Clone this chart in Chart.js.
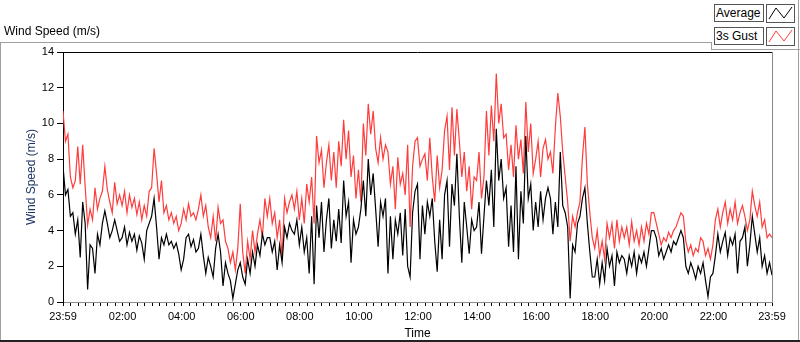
<!DOCTYPE html>
<html>
<head>
<meta charset="utf-8">
<script src="https://cdn.jsdelivr.net/npm/chart.js@4.4.0/dist/chart.umd.min.js"></script>
<style>
  body { margin: 0; background: #fff; font-family: "Liberation Sans", Arial, sans-serif; }
  #wrap { position: relative; width: 800px; height: 342px; overflow: hidden; }
  #c { position: absolute; left: 0; top: 0; }
  .ln { position: absolute; background: #a0a0a0; }
  .title { position: absolute; left: 4px; top: 24px; font-size: 12px; color: #000; }
  .lgtxt { position: absolute; left: 714px; width: 47px; height: 16px; border: 1px solid #555;
           background: #fff; font-size: 12px; line-height: 16px; padding-left: 1px; color: #000; }
  .lgicon { position: absolute; left: 766px; width: 27px; height: 17px; border: 1px solid #555; background: #fff; }
  .lgicon svg { display: block; }
</style>
</head>
<body>
<div id="wrap">
  <canvas id="c" width="800" height="342"></canvas>

  <!-- outer frame -->
  <div class="ln" style="left:0;top:42px;width:712px;height:1px"></div>
  <div class="ln" style="left:0;top:42px;width:1px;height:300px"></div>
  <div class="ln" style="left:711px;top:42px;width:1px;height:8px"></div>
  <div class="ln" style="left:711px;top:49px;width:89px;height:1px"></div>
  <div class="ln" style="left:798px;top:0;width:1px;height:342px"></div>
  <div class="ln" style="left:0;top:340px;width:800px;height:2px;background:#222"></div>

  <div class="title">Wind Speed (m/s)</div>

  <!-- legend -->
  <div class="lgtxt" style="top:4px">Average</div>
  <div class="lgicon" style="top:4px">
    <svg width="27" height="17"><polyline points="2,14 9,3 17,13 25,2" stroke="#000" stroke-width="1" fill="none"/></svg>
  </div>
  <div class="lgtxt" style="top:27px">3s Gust</div>
  <div class="lgicon" style="top:27px">
    <svg width="27" height="17"><polyline points="2,14 9,3 17,13 25,2" stroke="#ff3c3c" stroke-width="1" fill="none"/></svg>
  </div>
</div>

<script>
// sample times, minutes after 23:59 (5 minute steps)
const minutes = [];
for (let m = 0; m <= 1440; m += 5) minutes.push(m);

// Average wind speed (m/s), one row per hour
const avgSpeed = [
  7.6, 6.0, 6.3, 4.8, 5.0, 3.8, 4.6, 2.5, 5.6, 4.4, 0.7, 3.2,
  3.0, 1.6, 3.8, 3.2, 4.4, 5.1, 4.4, 3.6, 4.0, 4.6, 4.0, 3.4,
  3.6, 4.2, 3.2, 3.9, 3.4, 3.8, 2.9, 3.7, 3.3, 2.4, 4.0, 4.4,
  4.8, 5.8, 4.2, 2.4, 3.6, 3.2, 3.8, 3.2, 3.4, 3.0, 3.3, 2.7,
  1.8, 2.4, 3.6, 3.8, 3.1, 3.5, 2.8, 3.0, 3.8, 2.6, 1.6, 2.5,
  2.0, 1.4, 3.0, 3.8, 2.8, 0.9, 2.2, 1.6, 1.2, 0.2, 1.0, 1.8,
  2.2, 1.4, 1.0, 2.4, 1.6, 2.8, 2.0, 3.2, 2.6, 3.8, 3.2, 3.6,
  3.6, 2.8, 3.4, 1.8, 3.2, 2.2, 4.2, 3.6, 4.4, 4.0, 3.8, 4.6,
  3.2, 4.2, 2.8, 3.6, 1.6, 4.8, 1.0, 5.4, 3.6, 5.6, 2.8, 4.6,
  5.8, 3.0, 4.6, 3.4, 5.2, 3.3, 6.8, 4.8, 5.6, 2.2, 4.6, 3.8,
  4.2, 5.2, 6.8, 4.8, 8.0, 6.0, 7.2, 5.2, 3.1, 5.6, 4.8, 5.8,
  1.6, 4.8, 2.4, 4.6, 3.8, 5.0, 2.6, 5.2, 2.0, 1.4, 5.0, 6.2,
  6.6, 2.4, 5.4, 3.8, 5.6, 4.8, 5.8, 3.4, 1.7, 4.6, 2.4, 6.0,
  6.8, 3.1, 6.6, 5.4, 8.3, 4.8, 2.2, 5.6, 4.2, 2.7, 4.6, 4.0,
  4.2, 5.6, 2.7, 4.8, 6.8, 5.4, 7.4, 4.2, 9.7, 6.8, 8.0, 5.8,
  6.4, 3.1, 5.4, 2.8, 7.6, 2.4, 6.2, 4.4, 9.3, 5.8, 6.6, 4.0,
  5.6, 4.2, 6.2, 4.6, 5.8, 6.4, 5.8, 3.8, 5.6, 4.2, 8.4, 5.4,
  5.0, 4.2, 0.2, 3.2, 2.8, 4.4, 4.8, 5.8, 6.4, 4.4, 2.8, 1.4,
  1.4, 2.4, 1.0, 2.2, 1.2, 3.0, 2.0, 2.6, 0.9, 2.8, 2.2, 2.6,
  2.4, 1.6, 2.6, 2.0, 2.8, 1.6, 2.6, 2.2, 2.8, 2.0, 3.0, 4.0,
  4.0, 3.6, 2.6, 3.0, 2.4, 2.8, 3.2, 2.8, 3.4, 3.2, 3.6, 4.0,
  3.6, 2.0, 1.6, 2.2, 1.8, 1.3, 2.0, 1.6, 2.2, 1.2, 0.3, 1.4,
  1.6, 2.6, 3.8, 2.8, 3.4, 3.9, 2.6, 3.6, 3.2, 3.8, 1.6, 3.4,
  3.6, 4.2, 2.0, 3.2, 4.8, 3.8, 2.8, 3.6, 2.0, 2.6, 1.6, 2.2,
  1.5
];

// 3 second gust (m/s), one row per hour
const gustSpeed = [
  10.7, 9.0, 9.4, 7.0, 6.4, 6.8, 8.7, 6.6, 8.8, 6.5, 4.3, 5.2,
  4.6, 6.4, 5.2, 5.8, 6.2, 7.6, 6.3, 5.6, 5.0, 6.7, 5.5, 6.0,
  5.4, 6.2, 5.0, 6.0, 5.3, 5.8, 4.9, 5.6, 4.6, 5.4, 4.8, 6.2,
  6.4, 8.6, 7.2, 5.6, 6.8, 5.0, 5.4, 4.6, 5.0, 4.4, 4.8, 4.0,
  4.4, 5.2, 4.6, 5.5, 4.8, 5.0, 4.6, 5.2, 6.0, 4.8, 5.4, 4.2,
  3.6, 4.8, 3.4, 5.3, 4.4, 4.6, 3.4, 3.0, 2.2, 2.8, 1.8, 3.0,
  5.5, 2.8, 1.6, 3.4, 2.4, 4.0, 2.8, 3.8, 4.6, 3.6, 5.8, 4.8,
  5.8, 4.4, 5.0, 3.6, 4.6, 2.4, 5.8, 5.0, 5.6, 6.0, 5.2, 6.2,
  4.6, 5.8, 4.4, 6.6, 5.6, 7.0, 4.4, 9.3, 7.8, 8.5, 6.4, 7.8,
  8.8, 6.8, 8.4, 6.4, 9.0, 7.6, 10.2, 8.0, 9.6, 7.0, 8.2, 5.8,
  7.4, 5.6, 10.0, 8.2, 11.1, 9.4, 10.7, 8.6, 7.8, 9.2, 8.0, 8.8,
  8.4, 6.6, 7.6, 5.2, 8.1, 6.6, 7.2, 6.0, 8.8, 4.2, 7.6, 9.0,
  9.2, 7.6, 8.0, 8.3, 6.8, 9.2, 7.0, 5.6, 8.2, 6.4, 7.4, 9.6,
  10.4, 7.4, 10.9, 8.2, 10.8, 9.0, 7.0, 8.4, 6.2, 7.6, 5.2, 7.0,
  6.8, 8.4, 5.8, 7.0, 10.7, 8.2, 11.0, 9.0, 12.8, 10.0, 11.1, 9.2,
  9.4, 7.4, 8.8, 7.0, 9.9, 8.0, 9.1, 7.2, 11.2, 8.4, 10.0, 7.2,
  8.0, 9.0, 7.0, 8.6, 9.1, 8.0, 8.4, 7.2, 9.8, 11.7, 10.4, 8.4,
  7.0, 5.6, 3.4, 4.8, 4.2, 5.0, 5.6, 8.1, 9.8, 6.6, 5.0, 3.6,
  3.0, 4.0, 2.6, 3.4, 2.4, 4.4, 3.6, 4.4, 3.0, 4.6, 3.4, 4.2,
  3.6, 4.2, 3.2, 4.5, 3.4, 4.0, 3.2, 4.2, 3.4, 4.4, 3.8, 5.0,
  5.0, 4.4, 3.8, 3.2, 3.6, 3.4, 3.9, 3.6, 4.0, 4.2, 4.6, 5.0,
  4.8, 3.4, 2.8, 3.2, 2.6, 3.0, 2.8, 3.6, 3.4, 2.6, 3.0, 2.4,
  3.2, 4.6, 5.2, 4.2, 5.0, 5.6, 4.4, 5.2, 4.6, 5.6, 4.4, 5.0,
  5.4, 4.8, 4.0, 4.6, 6.2, 5.4, 4.8, 5.6, 4.2, 4.6, 3.6, 3.8,
  3.6
];

// labelled x ticks (minutes after 23:59)
const xTickMinutes = [0, 121, 241, 361, 481, 601, 721, 841, 961, 1081, 1201, 1321, 1440];
const xTickLabels = ['23:59', '02:00', '04:00', '06:00', '08:00', '10:00', '12:00',
                     '14:00', '16:00', '18:00', '20:00', '22:00', '23:59'];
const yTicks = [0, 2, 4, 6, 8, 10, 12, 14];

// small ticks every 15 minutes between the labelled ones
const xAllTicks = [0];
for (let m = 16; m < 1440; m += 15) xAllTicks.push(m);
xAllTicks.push(1440);

const tickFont = { family: '"Liberation Sans", Arial, sans-serif', size: 11 };
const titleFont = { family: '"Liberation Sans", Arial, sans-serif', size: 12 };

// top and right edges of the plot box
const frame = {
  id: 'frame',
  afterDraw(chart) {
    const { ctx, chartArea: a } = chart;
    ctx.save();
    ctx.lineWidth = 1;
    ctx.strokeStyle = '#000';
    ctx.beginPath();
    ctx.moveTo(a.left, a.top + 0.5);
    ctx.lineTo(a.right, a.top + 0.5);
    ctx.stroke();
    ctx.strokeStyle = '#8a8a8a';
    ctx.beginPath();
    ctx.moveTo(a.right + 0.5, a.top);
    ctx.lineTo(a.right + 0.5, a.bottom);
    ctx.stroke();
    ctx.restore();
  }
};

new Chart(document.getElementById('c'), {
  type: 'line',
  data: {
    labels: minutes,
    datasets: [
      {
        label: 'Average',
        data: avgSpeed,
        borderColor: '#000',
        borderWidth: 1.2,
        pointRadius: 0,
        tension: 0,
        order: 0
      },
      {
        label: '3s Gust',
        data: gustSpeed,
        borderColor: '#ff3c3c',
        borderWidth: 1.2,
        pointRadius: 0,
        tension: 0,
        order: 1
      }
    ]
  },
  options: {
    responsive: false,
    animation: false,
    layout: { padding: { top: 52, right: 28, bottom: 0, left: 0 } },
    plugins: {
      legend: { display: false },
      tooltip: { enabled: false }
    },
    scales: {
      x: {
        type: 'linear',
        min: 0,
        max: 1440,
        afterBuildTicks: s => { s.ticks = xAllTicks.map(v => ({ value: v })); },
        afterFit: s => { s.height = 40; },
        ticks: {
          autoSkip: false,
          maxRotation: 0,
          padding: 4,
          color: '#000',
          font: tickFont,
          callback: v => {
            const i = xTickMinutes.indexOf(v);
            return i >= 0 ? xTickLabels[i] : '';
          }
        },
        grid: { drawOnChartArea: false, tickLength: 4, color: '#000' },
        border: { color: '#8a8a8a' },
        title: { display: true, text: 'Time', color: '#000', font: titleFont, padding: { top: 0, bottom: 1 } }
      },
      y: {
        min: 0,
        max: 14,
        afterBuildTicks: s => { s.ticks = yTicks.map(v => ({ value: v })); },
        afterFit: s => { s.width = 63; },
        ticks: { padding: 3, color: '#000', font: tickFont },
        grid: { drawOnChartArea: false, tickLength: 6, color: '#000' },
        border: { color: '#000' },
        title: { display: true, text: 'Wind Speed (m/s)', color: '#1f3566', font: titleFont, padding: { top: 24, bottom: 0 } }
      }
    }
  },
  plugins: [frame]
});
</script>
</body>
</html>
